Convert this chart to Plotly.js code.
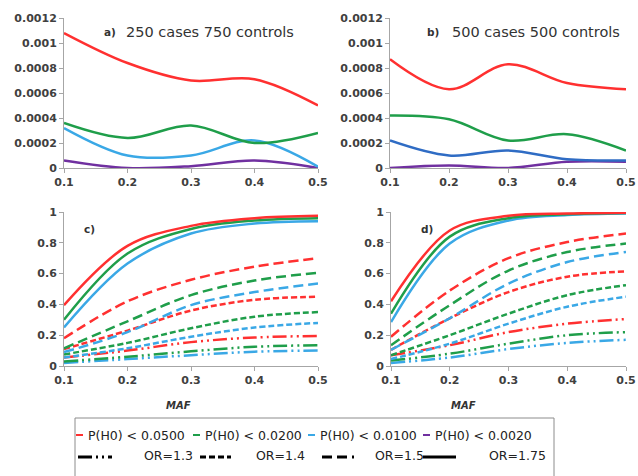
<!DOCTYPE html>
<html>
<head>
<meta charset="utf-8">
<script src="https://cdn.plot.ly/plotly-3.0.1.min.js"></script>
<style>
html,body{margin:0;padding:0;background:#fff;}
#chart{width:638px;height:476px;}
</style>
</head>
<body>
<div id="chart"></div>
<script>
// ---- data ----
const maf = [0.1, 0.2, 0.3, 0.4, 0.5];
const mafLabels = ['0.1', '0.2', '0.3', '0.4', '0.5'];

// Panel a: 250 cases 750 controls (type I error)
const a_p0500 = [0.00108, 0.00084, 0.00070, 0.00071, 0.00050];
const a_p0200 = [0.00036, 0.00024, 0.00034, 0.00020, 0.00028];
const a_p0100 = [0.00032, 0.00010, 0.00010, 0.00022, 0.00001];
const a_p0020 = [0.00006, 0.00000, 0.000015, 0.00006, 0.00000];

// Panel b: 500 cases 500 controls (type I error)
const b_p0500 = [0.00087, 0.00063, 0.00083, 0.00068, 0.00063];
const b_p0200 = [0.00042, 0.00039, 0.00022, 0.00027, 0.00014];
const b_p0100 = [0.00022, 0.00010, 0.00014, 0.00007, 0.00006];
const b_p0020 = [0.00000, 0.00002, 0.00000, 0.00005, 0.00005];

const errTickVals = [0, 0.0002, 0.0004, 0.0006, 0.0008, 0.001, 0.0012];
const errTickText = ['0', '0.0002', '0.0004', '0.0006', '0.0008', '0.001', '0.0012'];

// Panel c: power, 250 cases 750 controls
const c_or175_p0500 = [0.395, 0.78, 0.91, 0.96, 0.975];
const c_or175_p0200 = [0.30, 0.73, 0.89, 0.945, 0.96];
const c_or175_p0100 = [0.25, 0.665, 0.86, 0.925, 0.94];
const c_or15_p0500 = [0.18, 0.42, 0.56, 0.645, 0.70];
const c_or15_p0200 = [0.115, 0.29, 0.46, 0.555, 0.605];
const c_or15_p0100 = [0.09, 0.22, 0.395, 0.48, 0.535];
const c_or14_p0500 = [0.11, 0.23, 0.36, 0.43, 0.45];
const c_or14_p0200 = [0.075, 0.15, 0.245, 0.32, 0.35];
const c_or14_p0100 = [0.055, 0.115, 0.19, 0.25, 0.28];
const c_or13_p0500 = [0.055, 0.10, 0.155, 0.185, 0.195];
const c_or13_p0200 = [0.03, 0.06, 0.095, 0.125, 0.135];
const c_or13_p0100 = [0.02, 0.045, 0.07, 0.093, 0.10];

// Panel d: power, 500 cases 500 controls
const d_or175_p0500 = [0.42, 0.88, 0.975, 0.99, 0.995];
const d_or175_p0200 = [0.34, 0.84, 0.96, 0.985, 0.993];
const d_or175_p0100 = [0.285, 0.795, 0.945, 0.98, 0.99];
const d_or15_p0500 = [0.19, 0.49, 0.70, 0.805, 0.86];
const d_or15_p0200 = [0.135, 0.395, 0.62, 0.74, 0.795];
const d_or15_p0100 = [0.105, 0.31, 0.535, 0.675, 0.74];
const d_or14_p0500 = [0.105, 0.31, 0.48, 0.58, 0.615];
const d_or14_p0200 = [0.07, 0.20, 0.34, 0.46, 0.525];
const d_or14_p0100 = [0.045, 0.145, 0.275, 0.385, 0.45];
const d_or13_p0500 = [0.07, 0.135, 0.22, 0.275, 0.305];
const d_or13_p0200 = [0.035, 0.08, 0.145, 0.20, 0.22];
const d_or13_p0100 = [0.02, 0.055, 0.11, 0.15, 0.17];

const powTickVals = [0, 0.2, 0.4, 0.6, 0.8, 1];
const powTickText = ['0', '0.2', '0.4', '0.6', '0.8', '1'];

const pLabels = ['P(H0) < 0.0500', 'P(H0) < 0.0200', 'P(H0) < 0.0100', 'P(H0) < 0.0020'];
const orLabels = ['OR=1.3', 'OR=1.4', 'OR=1.5', 'OR=1.75'];

// ---- styles ----
const RED = '#ff3030', GREEN = '#1f9e4a', BLUE = '#3aa8e6', BLUE_B = '#2f6cc4', PURPLE = '#7030a0';
const DASH = {
  'OR=1.3': '14px,4px,2px,4px,2px,4px',
  'OR=1.4': '6px,3px',
  'OR=1.5': '10px,5px',
  'OR=1.75': 'solid'
};
const W = 638, H = 476;
const px = x => x / W;
const py = y => 1 - y / H;

function line(y, color, xa, ya, dash) {
  return {
    x: maf, y: y, type: 'scatter', mode: 'lines',
    xaxis: xa, yaxis: ya, showlegend: false, hoverinfo: 'skip',
    line: {color: color, width: 2.5, shape: 'spline', smoothing: 1, dash: dash || 'solid'}
  };
}

const traces = [
  line(a_p0020, PURPLE, 'x', 'y'),
  line(a_p0100, BLUE, 'x', 'y'),
  line(a_p0200, GREEN, 'x', 'y'),
  line(a_p0500, RED, 'x', 'y'),
  line(b_p0020, PURPLE, 'x2', 'y2'),
  line(b_p0100, BLUE_B, 'x2', 'y2'),
  line(b_p0200, GREEN, 'x2', 'y2'),
  line(b_p0500, RED, 'x2', 'y2'),

  line(c_or13_p0100, BLUE, 'x3', 'y3', DASH['OR=1.3']),
  line(c_or13_p0200, GREEN, 'x3', 'y3', DASH['OR=1.3']),
  line(c_or13_p0500, RED, 'x3', 'y3', DASH['OR=1.3']),
  line(c_or14_p0100, BLUE, 'x3', 'y3', DASH['OR=1.4']),
  line(c_or14_p0200, GREEN, 'x3', 'y3', DASH['OR=1.4']),
  line(c_or14_p0500, RED, 'x3', 'y3', DASH['OR=1.4']),
  line(c_or15_p0100, BLUE, 'x3', 'y3', DASH['OR=1.5']),
  line(c_or15_p0200, GREEN, 'x3', 'y3', DASH['OR=1.5']),
  line(c_or15_p0500, RED, 'x3', 'y3', DASH['OR=1.5']),
  line(c_or175_p0100, BLUE, 'x3', 'y3'),
  line(c_or175_p0200, GREEN, 'x3', 'y3'),
  line(c_or175_p0500, RED, 'x3', 'y3'),

  line(d_or13_p0100, BLUE, 'x4', 'y4', DASH['OR=1.3']),
  line(d_or13_p0200, GREEN, 'x4', 'y4', DASH['OR=1.3']),
  line(d_or13_p0500, RED, 'x4', 'y4', DASH['OR=1.3']),
  line(d_or14_p0100, BLUE, 'x4', 'y4', DASH['OR=1.4']),
  line(d_or14_p0200, GREEN, 'x4', 'y4', DASH['OR=1.4']),
  line(d_or14_p0500, RED, 'x4', 'y4', DASH['OR=1.4']),
  line(d_or15_p0100, BLUE, 'x4', 'y4', DASH['OR=1.5']),
  line(d_or15_p0200, GREEN, 'x4', 'y4', DASH['OR=1.5']),
  line(d_or15_p0500, RED, 'x4', 'y4', DASH['OR=1.5']),
  line(d_or175_p0100, BLUE, 'x4', 'y4'),
  line(d_or175_p0200, GREEN, 'x4', 'y4'),
  line(d_or175_p0500, RED, 'x4', 'y4')
];

const tickFont = {family: 'DejaVu Sans, sans-serif', size: 11, weight: 'bold', color: '#404040'};
function xax(domain, anchor) {
  return {
    domain: domain, anchor: anchor, range: [0.1, 0.5],
    tickvals: maf, ticktext: mafLabels, tickfont: tickFont, ticklabeloverflow: 'allow',
    showgrid: false, zeroline: false, showline: true, linecolor: '#a6a6a6', linewidth: 1,
    ticks: 'outside', ticklen: 4, tickcolor: '#a6a6a6', fixedrange: true
  };
}
function yax(domain, anchor, range, tv, tt) {
  return {
    domain: domain, anchor: anchor, range: range,
    tickvals: tv, ticktext: tt, tickfont: tickFont, ticklabeloverflow: 'allow',
    showgrid: false, zeroline: false, showline: true, linecolor: '#a6a6a6', linewidth: 1,
    ticks: 'outside', ticklen: 4, tickcolor: '#a6a6a6', fixedrange: true
  };
}

const xa = [px(64), px(318)], xb = [px(390), px(626)];
const xc = [px(64), px(318)], xd = [px(391), px(626)];
const yab = [py(168), py(18)], ycd = [py(366), py(212)];

const annFont = (size, extra) => Object.assign({family: 'DejaVu Sans, sans-serif', size: size, color: '#333333'}, extra || {});
function ann(text, x, y, font, xanchor) {
  return {text: text, x: px(x), y: py(y), xref: 'paper', yref: 'paper', showarrow: false,
          xanchor: xanchor || 'left', yanchor: 'middle', font: font};
}

const annotations = [
  ann('a)', 102, 32, annFont(10.5, {weight: 'bold'})),
  ann('250 cases 750 controls', 124, 32, annFont(14.5)),
  ann('b)', 425, 32, annFont(10.5, {weight: 'bold'})),
  ann('500 cases 500 controls', 450, 32, annFont(14.5)),
  ann('c)', 82, 229, annFont(10.5, {weight: 'bold'})),
  ann('d)', 419, 229, annFont(10.5, {weight: 'bold'})),
  ann('MAF', 178, 405, annFont(10, {weight: 'bold', style: 'italic'}), 'center'),
  ann('MAF', 463, 405, annFont(10, {weight: 'bold', style: 'italic'}), 'center')
];

// legend
const legFont = {family: 'DejaVu Sans, sans-serif', size: 12.5, color: '#222222'};
const pColors = [RED, GREEN, BLUE, PURPLE];
const pSampleX = [76, 193, 308, 423];
const pTextX = [86, 203, 318, 433];
const shapes = [
  {type: 'rect', xref: 'paper', yref: 'paper', x0: px(75), x1: px(554), y0: py(480), y1: py(418),
   line: {color: '#8c8c8c', width: 1}, fillcolor: 'rgba(0,0,0,0)'}
];
pLabels.forEach((t, i) => {
  shapes.push({type: 'line', xref: 'paper', yref: 'paper', x0: px(pSampleX[i]), x1: px(pSampleX[i] + 7),
               y0: py(435), y1: py(435), line: {color: pColors[i], width: 2}});
  annotations.push(ann(t, pTextX[i], 435, legFont));
});
const orSample = [[78, 112], [200, 231], [322, 354], [423, 456]];
const orTextX = [142, 254, 373, 487];
orLabels.forEach((t, i) => {
  shapes.push({type: 'line', xref: 'paper', yref: 'paper', x0: px(orSample[i][0]), x1: px(orSample[i][1]),
               y0: py(457), y1: py(457), line: {color: '#000000', width: 3, dash: DASH[t]}});
  annotations.push(ann(t, orTextX[i], 455, legFont));
});

const layout = {
  width: W, height: H,
  margin: {l: 0, r: 0, t: 0, b: 0},
  paper_bgcolor: '#ffffff', plot_bgcolor: '#ffffff',
  showlegend: false,
  xaxis: xax(xa, 'y'), yaxis: yax(yab, 'x', [0, 0.0012], errTickVals, errTickText),
  xaxis2: xax(xb, 'y2'), yaxis2: yax(yab, 'x2', [0, 0.0012], errTickVals, errTickText),
  xaxis3: xax(xc, 'y3'), yaxis3: yax(ycd, 'x3', [0, 1], powTickVals, powTickText),
  xaxis4: xax(xd, 'y4'), yaxis4: yax(ycd, 'x4', [0, 1], powTickVals, powTickText),
  annotations: annotations,
  shapes: shapes
};

Plotly.newPlot('chart', traces, layout, {displayModeBar: false, staticPlot: true});
</script>
</body>
</html>
